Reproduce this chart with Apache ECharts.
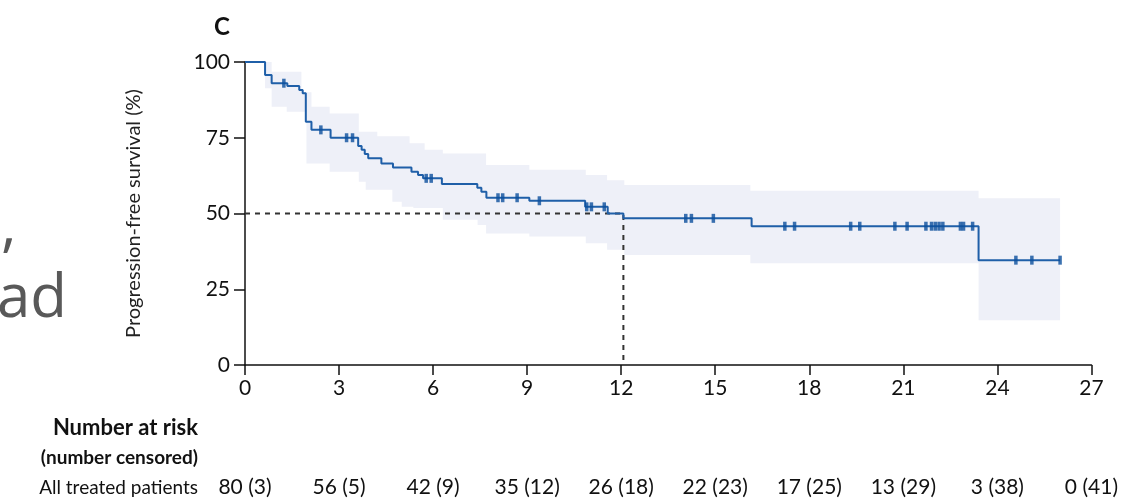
<!DOCTYPE html>
<html><head><meta charset="utf-8">
<script src="https://cdn.jsdelivr.net/npm/echarts@6/dist/echarts.min.js"></script>
<style>html,body{margin:0;padding:0;background:#fff}#c{width:1121px;height:499px}</style>
</head><body><div id="c"></div>
<script>
// ---- data ----
const xTickStep = 3;
const atRiskLabels = ['80 (3)','56 (5)','42 (9)','35 (12)','26 (18)','22 (23)','17 (25)','13 (29)','3 (38)','0 (41)'];
const kmTimes = [0,0.64,0.85,1.35,1.73,1.84,1.94,2.12,2.73,3.61,3.72,3.82,3.93,4.35,4.72,5.31,5.52,5.68,6.28,7.41,7.54,7.70,9.07,10.85,11.57,12.07,16.16,23.40,26.0];
const kmSurv  = [100,95.7,93.0,92.1,90.8,89.7,80.3,77.6,75.0,72.3,71.0,69.6,68.2,66.5,65.2,63.8,62.7,61.6,59.7,58.5,57.2,55.2,54.2,52.2,50.0,48.4,45.8,34.6,34.6];
const censorTimes = [1.24,2.42,3.24,3.43,5.78,5.94,8.07,8.22,8.68,9.39,10.9,11.05,11.46,14.06,14.24,14.94,17.22,17.53,19.32,19.61,20.73,21.12,21.72,21.9,22.02,22.14,22.26,22.82,22.92,23.21,24.59,25.10,26.0];
const bandUpperTimes  = [0.64,0.85,1.8,2.12,2.7,3.63,4.22,5.25,5.73,6.31,7.69,9.07,10.87,11.55,12.1,16.12,23.4];
const bandUpperValues = [100,96.8,90,85.2,83,77,75.5,73.2,71,69.8,66,64.4,62.7,61,59.4,57.5,55];
const bandLowerTimes  = [0.64,0.85,1.33,1.96,2.7,3.63,3.85,4.7,5.0,5.37,6.31,7.42,7.69,9.07,10.87,11.55,12.1,16.12,23.4];
const bandLowerValues = [91.3,85.2,83.6,66.5,63.8,60.5,57.8,53.9,52.2,51.8,47.9,46.2,43.4,42.4,40.2,38,36.3,33.6,14.8];
const bandEnd = 26.0;
const medianPFS = 12.07;

// ---- build ----
function survAt(t){let v=kmSurv[0];for(let i=0;i<kmTimes.length;i++){if(kmTimes[i]<=t)v=kmSurv[i];}return v;}
const kmData = kmTimes.map((t,i)=>[t,kmSurv[i]]);
const censorData = censorTimes.map(t=>[t,survAt(t)]);
function stepPts(ts,vs,end){const p=[];for(let i=0;i<ts.length;i++){const nx=i<ts.length-1?ts[i+1]:end;p.push([ts[i],vs[i]]);p.push([nx,vs[i]]);}return p;}
const upperPts = stepPts(bandUpperTimes,bandUpperValues,bandEnd);
const lowerPts = stepPts(bandLowerTimes,bandLowerValues,bandEnd).reverse();
const bandPoly = upperPts.concat(lowerPts);

const FONT = 'Lato';
const chart = echarts.init(document.getElementById('c'));
chart.setOption({
  animation:false,
  backgroundColor:'#fff',
  grid:{left:245,right:28,top:62,bottom:134,containLabel:false},
  xAxis:[{
    type:'value',min:0,max:27,interval:xTickStep,
    axisLine:{show:true,lineStyle:{color:'#111',width:1.5}},
    axisTick:{show:true,length:10,lineStyle:{color:'#111',width:1.5}},
    axisLabel:{fontSize:21,color:'#111',margin:13,fontFamily:FONT,showMinLabel:true,showMaxLabel:true},
    splitLine:{show:false}
  },{
    type:'value',min:0,max:27,interval:xTickStep,position:'bottom',offset:104,
    axisLine:{show:false},axisTick:{show:false},splitLine:{show:false},
    axisLabel:{fontSize:21,color:'#111',margin:8,fontFamily:FONT,showMinLabel:true,showMaxLabel:true,
      formatter:v=>atRiskLabels[Math.round(v/xTickStep)]}
  }],
  yAxis:{
    type:'value',min:0,max:100,interval:25,
    name:'Progression-free survival (%)',nameLocation:'middle',nameGap:101,
    nameTextStyle:{fontSize:20,color:'#222',fontFamily:FONT},
    axisLine:{show:true,lineStyle:{color:'#111',width:1.5}},
    axisTick:{show:true,length:11,lineStyle:{color:'#111',width:1.5}},
    axisLabel:{fontSize:21,color:'#111',margin:15,fontFamily:FONT},
    splitLine:{show:false}
  },
  graphic:[
    {type:'text',left:214,top:15,style:{text:'C',font:'bold 24px Lato',fill:'#111'}},
    {type:'text',x:198,y:428,style:{text:'Number at risk',font:'bold 22px Lato',fill:'#111',textAlign:'right',textVerticalAlign:'middle'}},
    {type:'text',x:198,y:458,style:{text:'(number censored)',font:'bold 19px Lato',fill:'#111',textAlign:'right',textVerticalAlign:'middle'}},
    {type:'text',x:198,y:488,style:{text:'All treated patients',font:'19px Lato',fill:'#111',textAlign:'right',textVerticalAlign:'middle'}},
    {type:'text',x:1,y:198,style:{text:',',font:'60px "Open Sans"',fill:'#595959'}},
    {type:'text',x:-3,y:270,style:{text:'ad',font:'60px "Open Sans"',fill:'#595959'}}
  ],
  series:[
    {type:'custom',coordinateSystem:'cartesian2d',silent:true,z:1,
     data:[[0,0]],
     renderItem:(params,api)=>({type:'polygon',shape:{points:bandPoly.map(p=>api.coord(p))},style:{fill:'#eef0f8'}})},
    {type:'line',data:[[0,50],[medianPFS,50],[medianPFS,0]],symbol:'none',silent:true,z:2,
     lineStyle:{color:'#333',width:2,type:[5,5]}},
    {type:'line',data:kmData,step:'end',symbol:'none',silent:true,z:3,
     lineStyle:{color:'#1f5fa8',width:2}},
    {type:'scatter',data:censorData,symbol:'rect',symbolSize:[3.5,9],silent:true,z:4,
     itemStyle:{color:'#0b4f9c'}}
  ]
});
</script></body></html>
